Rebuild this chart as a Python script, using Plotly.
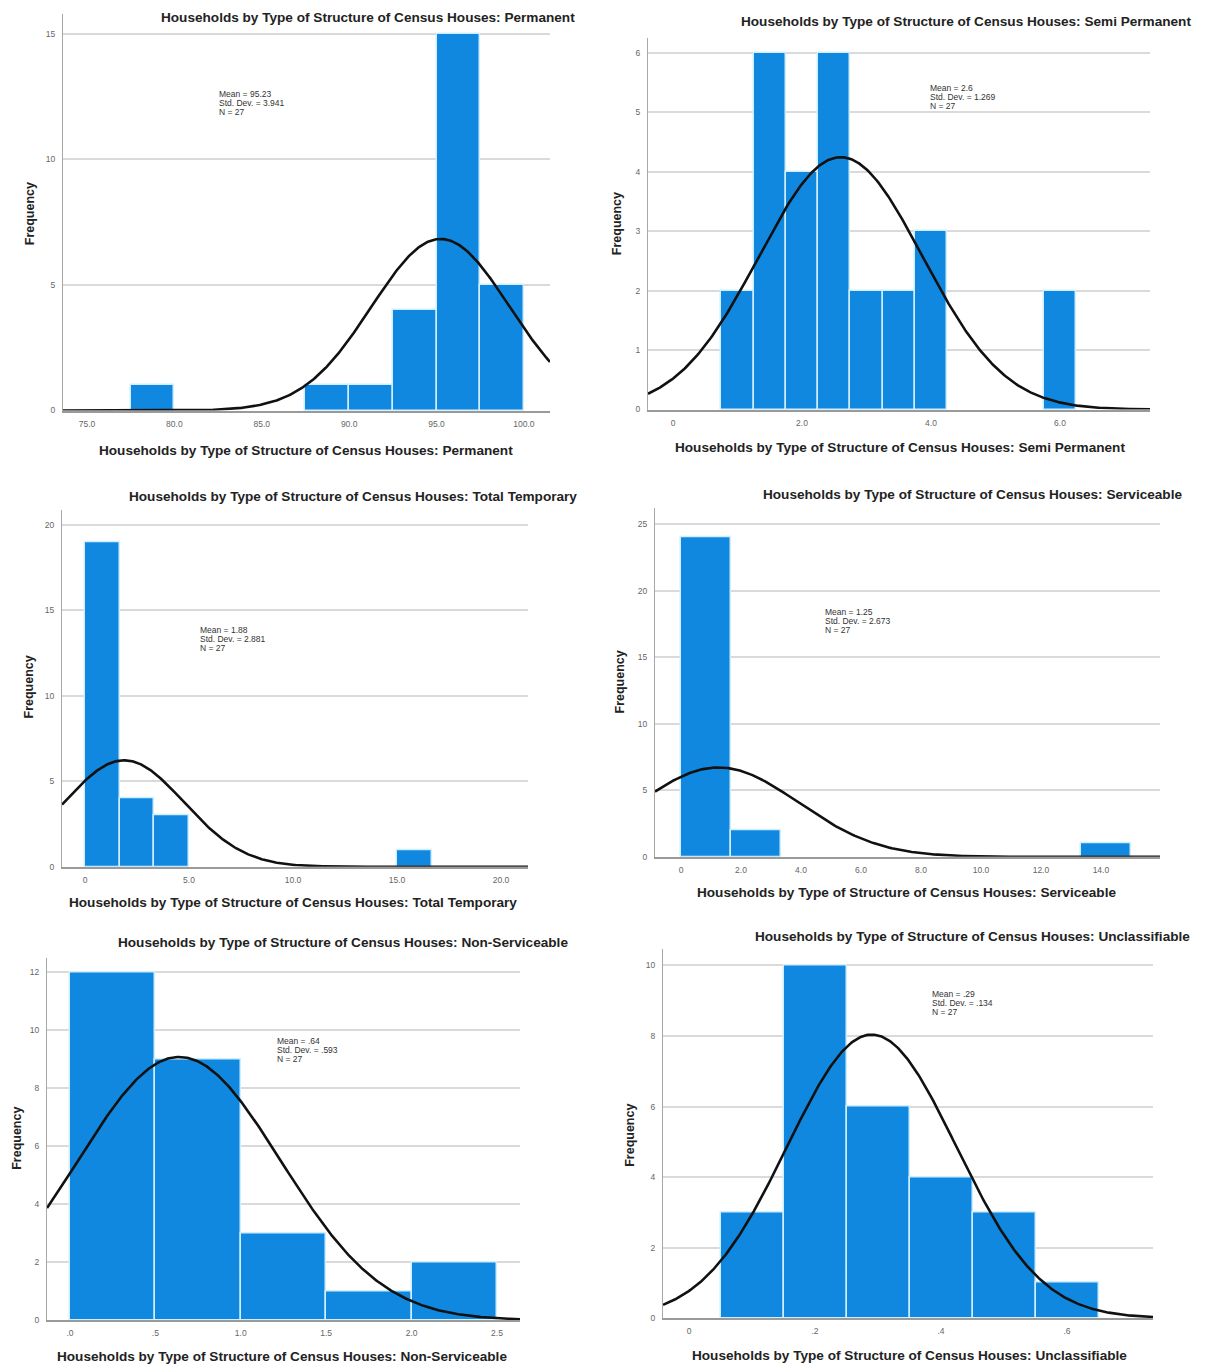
import numpy as np
import plotly.graph_objects as go

W0, H0 = 1207, 1372          # reference canvas
OFF = 8                       # default page margin of the html body
W, H = W0 - 2 * OFF, H0 - 2 * OFF

# ---------------- DATA ----------------
var_names = [
    "Households by Type of Structure of Census Houses: Permanent",
    "Households by Type of Structure of Census Houses: Semi Permanent",
    "Households by Type of Structure of Census Houses: Total Temporary",
    "Households by Type of Structure of Census Houses: Serviceable",
    "Households by Type of Structure of Census Houses: Non-Serviceable",
    "Households by Type of Structure of Census Houses: Unclassifiable",
]

# bin left edges, counts, bin widths
permanent_bins = [77.5, 87.5, 90.0, 92.5, 95.0, 97.5]
permanent_counts = [1, 1, 1, 4, 15, 5]
permanent_width = 2.5

semi_bins = [0.75, 1.25, 1.75, 2.25, 2.75, 3.25, 3.75, 5.75]
semi_counts = [2, 6, 4, 6, 2, 2, 3, 2]
semi_width = 0.5

temporary_bins = [0.0, 5 / 3, 10 / 3, 15.0]
temporary_counts = [19, 4, 3, 1]
temporary_width = 5 / 3

serviceable_bins = [0.0, 5 / 3, 40 / 3]
serviceable_counts = [24, 2, 1]
serviceable_width = 5 / 3

nonserv_bins = [0.0, 0.5, 1.0, 1.5, 2.0]
nonserv_counts = [12, 9, 3, 1, 2]
nonserv_width = 0.5

unclass_bins = [0.05, 0.15, 0.25, 0.35, 0.45, 0.55]
unclass_counts = [3, 10, 6, 4, 3, 1]
unclass_width = 0.1

means = [95.23, 2.6, 1.88, 1.25, 0.64, 0.29]
std_devs = [3.941, 1.269, 2.881, 2.673, 0.593, 0.134]
ns = [27, 27, 27, 27, 27, 27]
mean_labels = ["95.23", "2.6", "1.88", "1.25", ".64", ".29"]
sd_labels = ["3.941", "1.269", "2.881", "2.673", ".593", ".134"]

x_tickvals = [
    [75, 80, 85, 90, 95, 100],
    [0, 2, 4, 6],
    [0, 5, 10, 15, 20],
    [0, 2, 4, 6, 8, 10, 12, 14],
    [0, 0.5, 1.0, 1.5, 2.0, 2.5],
    [0, 0.2, 0.4, 0.6],
]
x_ticktext = [
    ["75.0", "80.0", "85.0", "90.0", "95.0", "100.0"],
    ["0", "2.0", "4.0", "6.0"],
    ["0", "5.0", "10.0", "15.0", "20.0"],
    ["0", "2.0", "4.0", "6.0", "8.0", "10.0", "12.0", "14.0"],
    [".0", ".5", "1.0", "1.5", "2.0", "2.5"],
    ["0", ".2", ".4", ".6"],
]
y_tickvals = [
    [0, 5, 10, 15],
    [0, 1, 2, 3, 4, 5, 6],
    [0, 5, 10, 15, 20],
    [0, 5, 10, 15, 20, 25],
    [0, 2, 4, 6, 8, 10, 12],
    [0, 2, 4, 6, 8, 10],
]

bins_all = [permanent_bins, semi_bins, temporary_bins, serviceable_bins, nonserv_bins, unclass_bins]
counts_all = [permanent_counts, semi_counts, temporary_counts, serviceable_counts, nonserv_counts, unclass_counts]
widths_all = [permanent_width, semi_width, temporary_width, serviceable_width, nonserv_width, unclass_width]

# ---------------- LAYOUT GEOMETRY (reference pixels) ----------------
panels = [
    dict(l=63, r=550, t=14, b=412, xr=[73.63, 101.49], yr=[0, 15.79],
         title=(368, 18), xt=(306, 452), fy=(30, 215), stats=(217, 94)),
    dict(l=648, r=1150, t=38, b=411, xr=[-0.388, 7.395], yr=[0, 6.25],
         title=(966, 22), xt=(900, 449), fy=(617, 225), stats=(928, 88)),
    dict(l=62, r=528, t=512, b=870, xr=[-1.106, 21.30], yr=[0, 20.87],
         title=(353, 498), xt=(293, 906), fy=(29, 690), stats=(198, 632)),
    dict(l=655, r=1160, t=510, b=860, xr=[-0.867, 15.97], yr=[0, 26.2],
         title=(972, 496), xt=(906, 896), fy=(620, 685), stats=(823, 614)),
    dict(l=47, r=520, t=962, b=1325, xr=[-0.1347, 2.635], yr=[0, 12.48],
         title=(343, 946), xt=(282, 1361), fy=(17, 1143), stats=(275, 1045)),
    dict(l=663, r=1153, t=952, b=1323, xr=[-0.0413, 0.7365], yr=[0, 10.48],
         title=(972, 940), xt=(909, 1360), fy=(630, 1140), stats=(930, 998)),
]


def px(x):
    return (x - OFF) / W


def py(y):
    return 1 - (y - OFF) / H


BAR = "#1188e0"
EDGE = "#cfeeff"
FONT = "Arial, Liberation Sans, sans-serif"

fig = go.Figure()
annotations = []
layout_axes = {}

for i, p in enumerate(panels):
    k = "" if i == 0 else str(i + 1)
    xa, ya = "x" + k, "y" + k
    bins = np.array(bins_all[i], dtype=float)
    w = widths_all[i]
    fig.add_trace(go.Bar(
        x=bins + w / 2, y=counts_all[i], width=w,
        marker=dict(color=BAR, line=dict(color=EDGE, width=1.5)),
        xaxis=xa, yaxis=ya, showlegend=False, hoverinfo="x+y",
    ))
    xs = np.linspace(p["xr"][0], p["xr"][1], 400)
    mu, sd, n = means[i], std_devs[i], ns[i]
    ys = n * w * np.exp(-0.5 * ((xs - mu) / sd) ** 2) / (sd * np.sqrt(2 * np.pi))
    fig.add_trace(go.Scatter(
        x=xs, y=ys, mode="lines", line=dict(color="#111111", width=2.6),
        xaxis=xa, yaxis=ya, showlegend=False, hoverinfo="skip",
    ))
    layout_axes["xaxis" + k] = dict(
        domain=[px(p["l"]), px(p["r"])], range=p["xr"], anchor=ya,
        showgrid=False, zeroline=False, showline=True, linecolor="#9a9a9a", linewidth=2,
        tickmode="array", tickvals=x_tickvals[i], ticktext=x_ticktext[i],
        ticks="", tickfont=dict(family=FONT, size=8.5, color="#666666"),
        ticklabelstandoff=4, fixedrange=True,
    )
    layout_axes["yaxis" + k] = dict(
        domain=[py(p["b"]), py(p["t"])], range=p["yr"], anchor=xa,
        showgrid=True, gridcolor="#dadada", gridwidth=2, zeroline=False,
        showline=True, linecolor="#a8a8a8", linewidth=1,
        tickmode="array", tickvals=y_tickvals[i],
        ticks="", tickfont=dict(family=FONT, size=8.5, color="#666666"),
        ticklabelstandoff=5, fixedrange=True,
    )
    tx, ty = p["title"]
    annotations.append(dict(
        text="<b>" + var_names[i] + "</b>", x=px(tx), y=py(ty), xref="paper", yref="paper",
        xanchor="center", yanchor="middle", showarrow=False,
        font=dict(family=FONT, size=13.6, color="#222222"),
    ))
    xx, xy = p["xt"]
    annotations.append(dict(
        text="<b>" + var_names[i] + "</b>", x=px(xx), y=py(xy), xref="paper", yref="paper",
        xanchor="center", yanchor="middle", showarrow=False,
        font=dict(family=FONT, size=13.6, color="#222222"),
    ))
    fx, fy = p["fy"]
    annotations.append(dict(
        text="<b>Frequency</b>", x=px(fx), y=py(fy), xref="paper", yref="paper",
        xanchor="center", yanchor="middle", showarrow=False, textangle=-90,
        font=dict(family=FONT, size=12.5, color="#222222"),
    ))
    sx, sy = p["stats"]
    lines = [f"Mean = {mean_labels[i]}", f"Std. Dev. = {sd_labels[i]}", f"N = {ns[i]}"]
    for j, line in enumerate(lines):
        annotations.append(dict(
            text=line, x=px(sx), y=py(sy + 9 * j), xref="paper", yref="paper",
            xanchor="left", yanchor="middle", align="left", showarrow=False,
            font=dict(family=FONT, size=8.5, color="#333333"),
        ))

fig.update_layout(
    width=W, height=H, autosize=False,
    margin=dict(l=0, r=0, t=0, b=0),
    paper_bgcolor="white", plot_bgcolor="white",
    bargap=0, annotations=annotations,
    font=dict(family=FONT),
    **layout_axes,
)

fig.write_html("out.html")
